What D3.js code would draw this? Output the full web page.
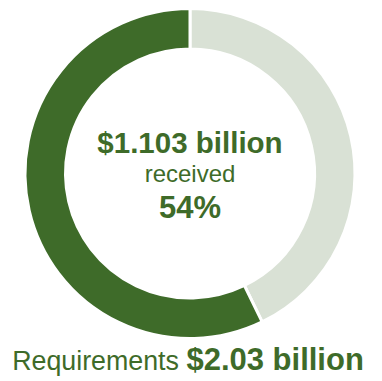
<!DOCTYPE html>
<html>
<head>
<meta charset="utf-8">
<script src="https://cdn.jsdelivr.net/npm/d3@7"></script>
<style>
  html, body { margin: 0; padding: 0; background: #fff; }
  svg { display: block; }
  text { font-family: "Liberation Sans", Arial, sans-serif; }
</style>
</head>
<body>
<svg id="chart" width="382" height="381"></svg>
<script>
// Data (share of the ring, clockwise from 12 o'clock)
const segments = ["Unfunded", "Received"];
const segmentShares = [42.8, 57.2];
const segmentColors = ["#d9e1d5", "#3e6b29"];
const centerLines = ["$1.103 billion", "received", "54%"];
const footerLabel = "Requirements ";
const footerValue = "$2.03 billion";

const svg = d3.select("#chart");
const cx = 190, cy = 173.5;
const outerR = 165, innerR = 124.5;
const green = "#3e6b29";

const pie = d3.pie().sort(null).value(d => d.v);
const arc = d3.arc().innerRadius(innerR).outerRadius(outerR);
const data = segments.map((k, i) => ({ k, v: segmentShares[i], c: segmentColors[i] }));

const g = svg.append("g").attr("transform", `translate(${cx},${cy})`);
g.selectAll("path").data(pie(data)).join("path")
  .attr("d", arc)
  .attr("fill", d => d.data.c)
  .attr("stroke", "#fff")
  .attr("stroke-width", 3);

const tg = svg.append("g").attr("fill", green).attr("text-anchor", "middle");
tg.append("text").attr("x", cx).attr("y", 153.3)
  .attr("font-size", 29.5).attr("font-weight", "bold").text(centerLines[0]);
tg.append("text").attr("x", cx).attr("y", 182.3)
  .attr("font-size", 24).text(centerLines[1]);
tg.append("text").attr("x", cx).attr("y", 218.3)
  .attr("font-size", 31).attr("font-weight", "bold").text(centerLines[2]);

const ft = tg.append("text").attr("x", 188).attr("y", 369.5);
ft.append("tspan").attr("font-size", 26.8).text(footerLabel);
ft.append("tspan").attr("font-size", 31).attr("font-weight", "bold").text(footerValue);
</script>
</body>
</html>
